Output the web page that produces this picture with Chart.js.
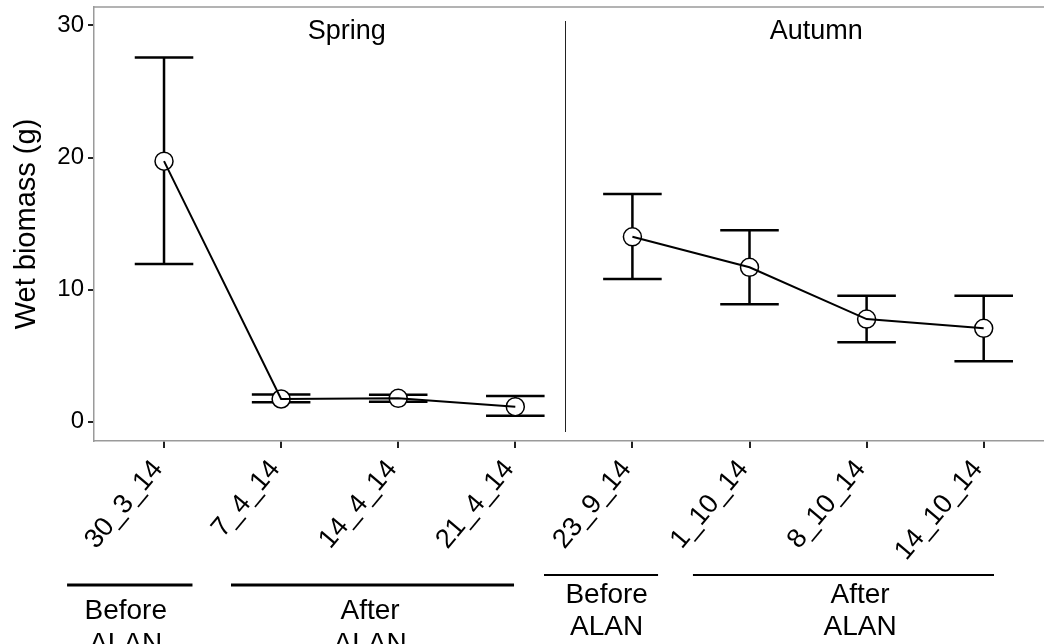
<!DOCTYPE html>
<html>
<head>
<meta charset="utf-8">
<script src="https://cdn.jsdelivr.net/npm/chart.js@4"></script>
<style>
  html, body { margin: 0; padding: 0; background: #fff; overflow: hidden; }
  #wrap { width: 1044px; height: 644px; position: relative; overflow: hidden; }
  canvas { display: block; }
</style>
</head>
<body>
<div id="wrap"><canvas id="c"></canvas></div>
<script>
// ---- data ----
const categories = ['30_3_14', '7_4_14', '14_4_14', '21_4_14', '23_9_14', '1_10_14', '8_10_14', '14_10_14'];
const meanBiomass = [19.73, 1.72, 1.77, 1.14, 14.0, 11.69, 7.77, 7.07];
const lowerBiomass = [11.94, 1.47, 1.52, 0.45, 10.8, 8.89, 6.01, 4.57];
const upperBiomass = [27.58, 2.07, 2.05, 1.95, 17.24, 14.49, 9.54, 9.54];
const seasons = ['Spring', 'Autumn'];
const seasonMembers = [[0, 1, 2, 3], [4, 5, 6, 7]];
const yTickValues = [0, 10, 20, 30];
const groupLabels = [['Before', 'ALAN'], ['After', 'ALAN'], ['Before', 'ALAN'], ['After', 'ALAN']];
const yTitle = 'Wet biomass (g)';

// ---- layout / style (not data) ----
const FONT = "'Liberation Sans', Arial, sans-serif";
const seasonTitleX = [1.56, 5.57];          // in category units
const dividerX = 3.424;                      // in category units
const groupSpans = [[-0.828, 0.243], [0.572, 2.989], [3.245, 4.219], [4.517, 7.088]];
const groupTextX = [-0.327, 1.76, 3.78, 5.944];
const groupStyle = [
  { lineY: 585, lineW: 3, y1: 619, y2: 652 },
  { lineY: 585, lineW: 3, y1: 619, y2: 652 },
  { lineY: 575, lineW: 2, y1: 603, y2: 635 },
  { lineY: 575, lineW: 2, y1: 603, y2: 635 }
];

const pointData = categories.map((c, i) => ({ x: i, y: meanBiomass[i] }));
const lineSets = seasonMembers.map(idx => idx.map(i => ({ x: i, y: meanBiomass[i] })));

const decorPlugin = {
  id: 'decor',
  beforeDatasetsDraw(chart) {
    const { ctx, chartArea, scales } = chart;
    const xs = scales.x, ys = scales.y;
    ctx.save();
    // top frame line
    ctx.strokeStyle = '#9a9a9a';
    ctx.lineWidth = 1.5;
    ctx.beginPath();
    ctx.moveTo(chartArea.left, chartArea.top);
    ctx.lineTo(chart.width, chartArea.top);
    ctx.stroke();
    // divider between seasons
    const dx = Math.round(xs.getPixelForValue(dividerX)) + 0.5;
    ctx.strokeStyle = '#222';
    ctx.lineWidth = 1;
    ctx.beginPath();
    ctx.moveTo(dx, chartArea.top + 14);
    ctx.lineTo(dx, chartArea.bottom - 9);
    ctx.stroke();
    // season titles
    ctx.fillStyle = '#000';
    ctx.font = '27px ' + FONT;
    ctx.textAlign = 'center';
    ctx.textBaseline = 'alphabetic';
    seasons.forEach((s, k) => {
      ctx.fillText(s, xs.getPixelForValue(seasonTitleX[k]), chartArea.top + 32);
    });
    // error bars
    const capHalf = (xs.getPixelForValue(1) - xs.getPixelForValue(0)) * 0.25;
    ctx.strokeStyle = '#000';
    ctx.lineWidth = 2.5;
    categories.forEach((c, i) => {
      const px = xs.getPixelForValue(i);
      const yl = ys.getPixelForValue(lowerBiomass[i]);
      const yu = ys.getPixelForValue(upperBiomass[i]);
      ctx.beginPath();
      ctx.moveTo(px, yl); ctx.lineTo(px, yu);
      ctx.moveTo(px - capHalf, yl); ctx.lineTo(px + capHalf, yl);
      ctx.moveTo(px - capHalf, yu); ctx.lineTo(px + capHalf, yu);
      ctx.stroke();
    });
    ctx.restore();
  },
  afterDraw(chart) {
    const { ctx, scales } = chart;
    const xs = scales.x;
    ctx.save();
    ctx.strokeStyle = '#000';
    ctx.fillStyle = '#000';
    ctx.font = '28px ' + FONT;
    ctx.textAlign = 'center';
    ctx.textBaseline = 'alphabetic';
    groupLabels.forEach((lab, k) => {
      const st = groupStyle[k];
      ctx.lineWidth = st.lineW;
      ctx.beginPath();
      ctx.moveTo(xs.getPixelForValue(groupSpans[k][0]), st.lineY);
      ctx.lineTo(xs.getPixelForValue(groupSpans[k][1]), st.lineY);
      ctx.stroke();
      const tx = xs.getPixelForValue(groupTextX[k]);
      ctx.fillText(lab[0], tx, st.y1);
      ctx.fillText(lab[1], tx, st.y2);
    });
    ctx.restore();
  }
};

new Chart(document.getElementById('c'), {
  type: 'line',
  data: {
    datasets: [
      {
        label: 'means',
        data: pointData,
        showLine: false,
        pointRadius: 9,
        pointBackgroundColor: '#fff',
        pointBorderColor: '#000',
        pointBorderWidth: 1.5,
        order: 2
      },
      ...lineSets.map((d, k) => ({
        label: seasons[k],
        data: d,
        borderColor: '#000',
        borderWidth: 2,
        pointRadius: 0,
        fill: false,
        tension: 0,
        order: 1
      }))
    ]
  },
  options: {
    responsive: true,
    maintainAspectRatio: false,
    animation: false,
    layout: { autoPadding: false, padding: { left: 0, right: 0, top: 7, bottom: 0 } },
    plugins: { legend: { display: false }, tooltip: { enabled: false } },
    scales: {
      x: {
        type: 'linear',
        min: -0.598,
        max: 7.515,
        afterBuildTicks(scale) { scale.ticks = categories.map((c, i) => ({ value: i })); },
        afterFit(scale) { scale.height = 203; scale.paddingLeft = 0; scale.paddingRight = 0; },
        ticks: {
          autoSkip: false,
          minRotation: 50,
          maxRotation: 50,
          color: '#000',
          padding: 6,
          labelOffset: -6,
          font: { family: FONT, size: 27 },
          callback: (v) => categories[v]
        },
        grid: { drawOnChartArea: false, color: '#222', tickLength: 7, lineWidth: 2 },
        border: { color: '#9a9a9a', width: 1.5 }
      },
      y: {
        type: 'linear',
        min: -1.46,
        max: 31.4,
        afterBuildTicks(scale) { scale.ticks = yTickValues.map(v => ({ value: v })); },
        afterFit(scale) { scale.width = 94; scale.paddingTop = 0; scale.paddingBottom = 0; },
        ticks: {
          color: '#000',
          padding: 4,
          font: { family: FONT, size: 24 }
        },
        grid: { drawOnChartArea: false, color: '#222', tickLength: 6, lineWidth: 2 },
        border: { color: '#9a9a9a', width: 1.5 },
        title: {
          display: true,
          text: yTitle,
          color: '#000',
          font: { family: FONT, size: 29 },
          padding: { top: 10, bottom: 0 }
        }
      }
    }
  },
  plugins: [decorPlugin]
});
</script>
</body>
</html>
